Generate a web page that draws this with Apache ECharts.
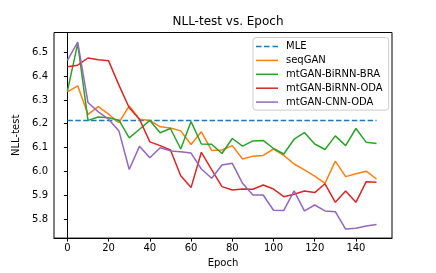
<!DOCTYPE html>
<html>
<head>
<meta charset="utf-8">
<script src="https://cdn.jsdelivr.net/npm/echarts@6/dist/echarts.min.js"></script>
<style>html,body{margin:0;padding:0;background:#fff}#c{width:436px;height:273px}</style>
</head>
<body>
<div id="c"></div>
<script>
const epochs = [0,5,10,15,20,25,30,35,40,45,50,55,60,65,70,75,80,85,90,95,100,105,110,115,120,125,130,135,140,145,150];
const mle = 6.214;
const seqGAN = [6.334,6.359,6.239,6.272,6.240,6.205,6.275,6.219,6.214,6.187,6.182,6.170,6.113,6.166,6.088,6.090,6.108,6.052,6.064,6.067,6.094,6.067,6.031,6.006,5.980,5.950,6.043,5.978,5.990,6.001,5.968];
const birnnBRA = [6.337,6.536,6.214,6.228,6.225,6.215,6.141,6.177,6.214,6.162,6.180,6.094,6.209,6.115,6.114,6.075,6.138,6.106,6.128,6.130,6.096,6.073,6.135,6.163,6.115,6.092,6.149,6.108,6.180,6.122,6.117];
const birnnODA = [6.439,6.446,6.476,6.469,6.464,6.362,6.267,6.219,6.124,6.108,6.090,5.982,5.932,6.080,6.007,5.936,5.922,5.926,5.925,5.943,5.926,5.894,5.904,5.918,5.911,5.948,5.870,5.918,5.870,5.957,5.954];
const cnnODA = [6.466,6.543,6.289,6.250,6.219,6.170,6.008,6.106,6.057,6.099,6.086,6.082,6.077,6.010,5.971,6.027,6.034,5.950,5.901,5.901,5.837,5.836,5.918,5.834,5.859,5.834,5.831,5.758,5.761,5.771,5.777];
const xTicks = [0,20,40,60,80,100,120,140];
const yTicks = [5.8,5.9,6.0,6.1,6.2,6.3,6.4,6.5];
const names = ['MLE','seqGAN','mtGAN-BiRNN-BRA','mtGAN-BiRNN-ODA','mtGAN-CNN-ODA'];
const colors = ['#1f77b4','#ff7f0e','#2ca02c','#d62728','#9467bd'];

const font = 'DejaVu Sans';
const pair = arr => epochs.map((e,i)=>[e,arr[i]]);
const mleData = [[epochs[0],mle],[epochs[epochs.length-1],mle]];
const seriesData = [mleData, pair(seqGAN), pair(birnnBRA), pair(birnnODA), pair(cnnODA)];

const solidIcon = 'path://M0,0h22v1.5h-22z';
const dashIcon = 'path://M0,0h5.5v1.5h-5.5z M8,0h5.5v1.5h-5.5z M16.5,0h5.5v1.5h-5.5z';

const chart = echarts.init(document.getElementById('c'), null, {renderer:'canvas'});
chart.setOption({
  animation:false,
  backgroundColor:'#fff',
  title:{text:'NLL-test vs. Epoch', left:223, top:11, textAlign:'center',
    textStyle:{fontFamily:font, fontSize:12, fontWeight:'normal', color:'#000'}},
  grid:{left:54, right:44, top:32.5, bottom:34.7, show:true, borderColor:'#000', borderWidth:1, backgroundColor:'transparent'},
  legend:{
    orient:'vertical', left:253, top:37.5,
    data:names.map((n,i)=>({name:n, icon: i===0 ? dashIcon : solidIcon, itemStyle:{color:colors[i]}})),
    itemWidth:22, itemHeight:10, itemGap:3.9, symbolKeepAspect:true,
    padding:[4,6,3,3],
    borderColor:'#ccc', borderWidth:1, borderRadius:3, backgroundColor:'rgba(255,255,255,0.8)',
    textStyle:{fontFamily:font, fontSize:10, color:'#000', padding:[0,0,0,3]}
  },
  xAxis:{
    type:'value', min:-6.5, max:157.5,
    name:'Epoch', nameLocation:'middle', nameGap:18,
    nameTextStyle:{fontFamily:font, fontSize:10, color:'#000'},
    axisLine:{show:true, lineStyle:{color:'#000', width:1}},
    axisTick:{show:true, length:3.5, customValues:xTicks, lineStyle:{color:'#000'}},
    axisLabel:{customValues:xTicks, fontFamily:font, fontSize:10, color:'#000', margin:5},
    splitLine:{show:false}
  },
  yAxis:{
    type:'value', min:5.72, max:6.583,
    name:'NLL-test', nameLocation:'middle', nameGap:23, nameRotate:90,
    nameTextStyle:{fontFamily:font, fontSize:10, color:'#000'},
    axisLine:{show:true, lineStyle:{color:'#000', width:1}},
    axisTick:{show:true, length:3.5, customValues:yTicks, lineStyle:{color:'#000'}},
    axisLabel:{customValues:yTicks, fontFamily:font, fontSize:10, color:'#000', margin:6,
      formatter:v=>v.toFixed(1)},
    splitLine:{show:false}
  },
  series: names.map((n,i)=>({
    name:n, type:'line', data:seriesData[i], symbol:'none', showSymbol:false,
    lineStyle:{color:colors[i], width:1.5, type: i===0 ? [5.5,2.4] : 'solid'},
    itemStyle:{color:colors[i]},
    z: 2+i
  }))
});
</script>
</body>
</html>
